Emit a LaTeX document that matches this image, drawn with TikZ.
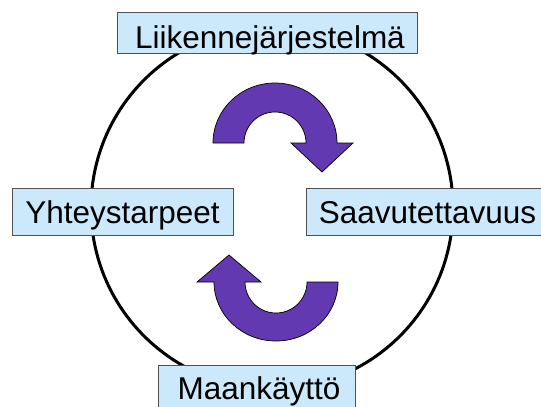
\documentclass[tikz,border=0pt]{standalone}
\usepackage{fontspec}
\setmainfont{Liberation Sans}
\definecolor{boxblue}{RGB}{204,233,251}
\definecolor{boxline}{RGB}{80,80,80}
\definecolor{cyclepurple}{RGB}{99,57,178}
\tikzset{
  topicbox/.style={draw=boxline, fill=boxblue, line width=0.9pt, inner sep=0pt, rectangle},
  topictext/.style={inner sep=0pt, anchor=base, font=\fontsize{31.5}{36}\selectfont},
  cyclearrow/.style={draw=black, fill=cyclepurple, line width=0.7pt, line join=miter},
}
\begin{document}
\begin{tikzpicture}[x=1pt, y=-1pt]
  \clip (0,0) rectangle (541,407);
  \fill[white] (0,0) rectangle (541,407);

  % the ring linking the four topics
  \node[draw, line width=3pt, circle, minimum size=362pt, inner sep=0pt] (ring) at (272,208) {};

  % curved arrows inside the ring
  \path[cyclearrow]
    (213,143) arc[start angle=180, end angle=0, x radius=62pt, y radius=60pt]
    -- (353,143) -- (322,172) -- (291,143) -- (306,143)
    arc[start angle=0, end angle=180, x radius=31pt, y radius=31pt]
    -- cycle;
  \path[cyclearrow]
    (338,282) arc[start angle=0, end angle=-180, x radius=62pt, y radius=59pt]
    -- (197,282) -- (229,255) -- (261,282) -- (245,282)
    arc[start angle=180, end angle=360, x radius=31pt, y radius=31pt]
    -- cycle;

  % topic boxes
  \node[topicbox, minimum width=300pt, minimum height=41pt] (liikenne) at (267,32.5) {};
  \node[topicbox, minimum width=221pt, minimum height=47pt] (yhteys) at (122.5,211.5) {};
  \node[topicbox, minimum width=239pt, minimum height=47pt] (saavut) at (425.5,211.5) {};
  \node[topicbox, minimum width=197pt, minimum height=50pt] (maank) at (256.5,390) {};

  % topic labels
  \node[topictext] (liikennetext) at (270,48) {Liikennejärjestelmä};
  \node[topictext] (yhteystext) at (122.5,223) {Yhteystarpeet};
  \node[topictext] (saavuttext) at (427.5,223) {Saavutettavuus};
  \node[topictext] (maanktext) at (259,399) {Maankäyttö};
\end{tikzpicture}
\end{document}
